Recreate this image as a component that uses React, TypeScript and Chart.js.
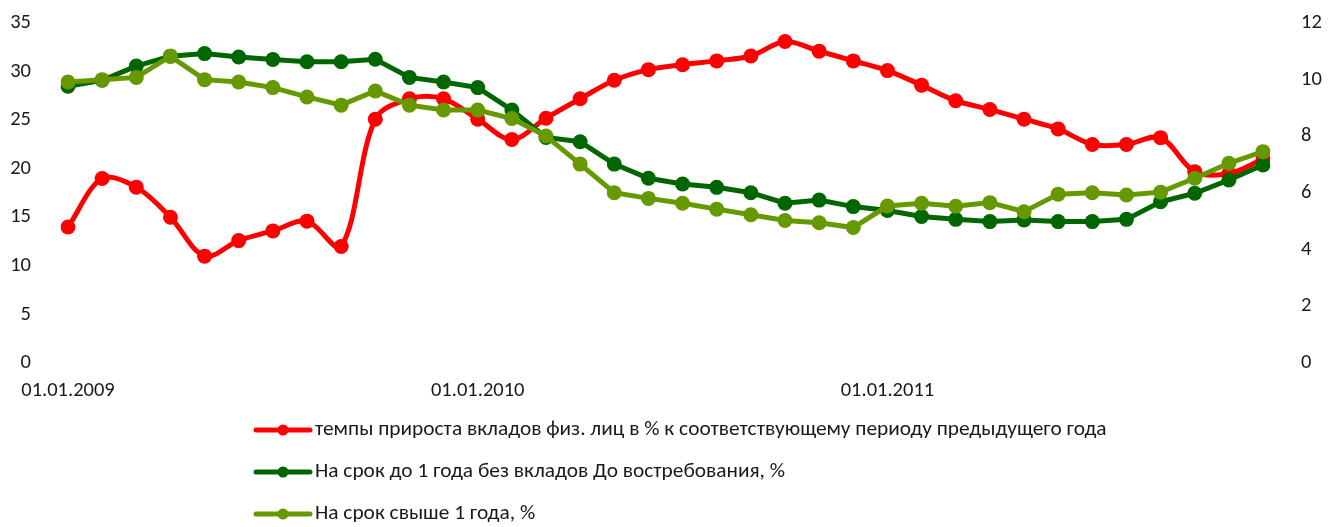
import React, { useEffect, useRef } from "react";
import { Chart, registerables } from "chart.js";

Chart.register(...registerables);

const categories = [
  "01.01.2009", "01.02.2009", "01.03.2009", "01.04.2009", "01.05.2009", "01.06.2009",
  "01.07.2009", "01.08.2009", "01.09.2009", "01.10.2009", "01.11.2009", "01.12.2009",
  "01.01.2010", "01.02.2010", "01.03.2010", "01.04.2010", "01.05.2010", "01.06.2010",
  "01.07.2010", "01.08.2010", "01.09.2010", "01.10.2010", "01.11.2010", "01.12.2010",
  "01.01.2011", "01.02.2011", "01.03.2011", "01.04.2011", "01.05.2011", "01.06.2011",
  "01.07.2011", "01.08.2011", "01.09.2011", "01.10.2011", "01.11.2011", "01.12.2011",
];

const xTickLabels = ["01.01.2009", "01.01.2010", "01.01.2011"];

const seriesNames = [
  "темпы прироста вкладов физ. лиц в % к соответствующему периоду предыдущего года",
  "На срок до 1 года без вкладов До востребования, %",
  "На срок свыше 1 года, %",
];

// left axis
const growthRate = [
  14.0, 19.0, 18.1, 15.0, 11.0, 12.6, 13.6, 14.6, 12.0, 25.1, 27.2, 27.2,
  25.1, 23.0, 25.2, 27.2, 29.1, 30.2, 30.7, 31.1, 31.6, 33.1, 32.1, 31.1,
  30.1, 28.6, 27.0, 26.1, 25.1, 24.1, 22.5, 22.5, 23.2, 19.7, 19.5, 21.0,
];

// right axis
const upToOneYear = [
  9.77, 9.98, 10.48, 10.83, 10.92, 10.8, 10.71, 10.63, 10.63, 10.72, 10.08, 9.92,
  9.72, 8.93, 7.96, 7.81, 7.02, 6.52, 6.32, 6.2, 6.01, 5.64, 5.75, 5.52,
  5.38, 5.17, 5.07, 4.99, 5.05, 4.99, 4.99, 5.07, 5.69, 5.99, 6.46, 6.99,
];

// right axis
const overOneYear = [
  9.92, 10.0, 10.08, 10.83, 10.0, 9.92, 9.72, 9.39, 9.1, 9.6, 9.1, 8.93,
  8.93, 8.63, 8.01, 7.02, 6.01, 5.81, 5.64, 5.43, 5.23, 5.03, 4.95, 4.78,
  5.54, 5.64, 5.53, 5.66, 5.34, 5.96, 6.01, 5.93, 6.03, 6.52, 7.05, 7.46,
];

const leftAxis = { min: 0, max: 35, step: 5 };
const rightAxis = { min: 0, max: 12, step: 2 };

const COLORS = ["#FF0000", "#006600", "#669900"];
const FONT = "Carlito, Calibri, 'Open Sans', sans-serif";
const TEXT_COLOR = "#1a1a1a";

const legendPlugin = {
  id: "verticalLegend",
  afterDraw(chart: any) {
    const ctx = chart.ctx as CanvasRenderingContext2D;
    const datasets = chart.data.datasets;
    const lineX0 = 256;
    const lineX1 = 310;
    const textX = 315;
    const rowsY = [430, 472, 514];
    const targetFirstWidth = 792;
    ctx.save();
    ctx.font = `19px ${FONT}`;
    const w0 = ctx.measureText(datasets[0].label).width;
    const size = (19 * targetFirstWidth) / w0;
    ctx.font = `${size}px ${FONT}`;
    datasets.forEach((ds: any, i: number) => {
      const y = rowsY[i];
      ctx.strokeStyle = ds.borderColor;
      ctx.lineWidth = 5;
      ctx.lineCap = "round";
      ctx.beginPath();
      ctx.moveTo(lineX0, y);
      ctx.lineTo(lineX1, y);
      ctx.stroke();
      ctx.fillStyle = ds.borderColor;
      ctx.beginPath();
      ctx.arc((lineX0 + lineX1) / 2, y, 5.5, 0, Math.PI * 2);
      ctx.fill();
      ctx.fillStyle = TEXT_COLOR;
      ctx.textBaseline = "middle";
      ctx.textAlign = "left";
      ctx.fillText(ds.label, textX, y);
    });
    ctx.restore();
  },
};

const noVerticalPadding = (scale: any) => {
  scale.paddingTop = 0;
  scale.paddingBottom = 0;
};

export default function App() {
  const canvasRef = useRef<HTMLCanvasElement | null>(null);

  useEffect(() => {
    if (!canvasRef.current) return;
    const chart = new Chart(canvasRef.current, {
      type: "line",
      data: {
        labels: categories,
        datasets: [
          {
            label: seriesNames[0],
            data: growthRate,
            yAxisID: "y",
            borderColor: COLORS[0],
            backgroundColor: COLORS[0],
            borderWidth: 5,
            pointRadius: 7.5,
            pointHoverRadius: 7.5,
            pointBorderWidth: 0,
            tension: 0.33,
            order: 2,
          },
          {
            label: seriesNames[1],
            data: upToOneYear,
            yAxisID: "y1",
            borderColor: COLORS[1],
            backgroundColor: COLORS[1],
            borderWidth: 5,
            pointRadius: 7.5,
            pointHoverRadius: 7.5,
            pointBorderWidth: 0,
            tension: 0,
            order: 1,
          },
          {
            label: seriesNames[2],
            data: overOneYear,
            yAxisID: "y1",
            borderColor: COLORS[2],
            backgroundColor: COLORS[2],
            borderWidth: 5,
            pointRadius: 7.5,
            pointHoverRadius: 7.5,
            pointBorderWidth: 0,
            tension: 0,
            order: 0,
          },
        ],
      },
      options: {
        animation: false,
        responsive: true,
        maintainAspectRatio: false,
        layout: { padding: { top: 23, left: 0, right: 0, bottom: 0 } },
        plugins: {
          legend: { display: false },
          tooltip: { enabled: false },
        },
        scales: {
          x: {
            offset: false,
            grid: { display: false, drawTicks: false },
            border: { display: false },
            afterFit: (scale: any) => {
              scale.height = 164;
            },
            ticks: {
              autoSkip: false,
              maxRotation: 0,
              minRotation: 0,
              padding: 16,
              color: TEXT_COLOR,
              font: { family: FONT, size: 20.5 },
              callback: (_v: any, idx: number) =>
                xTickLabels.includes(categories[idx]) ? categories[idx] : "",
            },
          },
          y: {
            position: "left",
            min: leftAxis.min,
            max: leftAxis.max,
            grid: { display: false, drawTicks: false },
            border: { display: false },
            afterFit: (scale: any) => {
              scale.width = 68;
              noVerticalPadding(scale);
            },
            ticks: {
              stepSize: leftAxis.step,
              padding: 37,
              color: TEXT_COLOR,
              font: { family: FONT, size: 20.5 },
            },
          },
          y1: {
            position: "right",
            min: rightAxis.min,
            max: rightAxis.max,
            grid: { display: false, drawTicks: false, drawOnChartArea: false },
            border: { display: false },
            afterFit: (scale: any) => {
              scale.width = 73;
              noVerticalPadding(scale);
            },
            ticks: {
              stepSize: rightAxis.step,
              padding: 38,
              color: TEXT_COLOR,
              font: { family: FONT, size: 20.5 },
            },
          },
        },
      },
      plugins: [legendPlugin],
    });
    return () => chart.destroy();
  }, []);

  return (
    <div style={{ position: "fixed", left: 0, top: 0, width: 1336, height: 527, background: "#fff" }}>
      <canvas ref={canvasRef} />
    </div>
  );
}
